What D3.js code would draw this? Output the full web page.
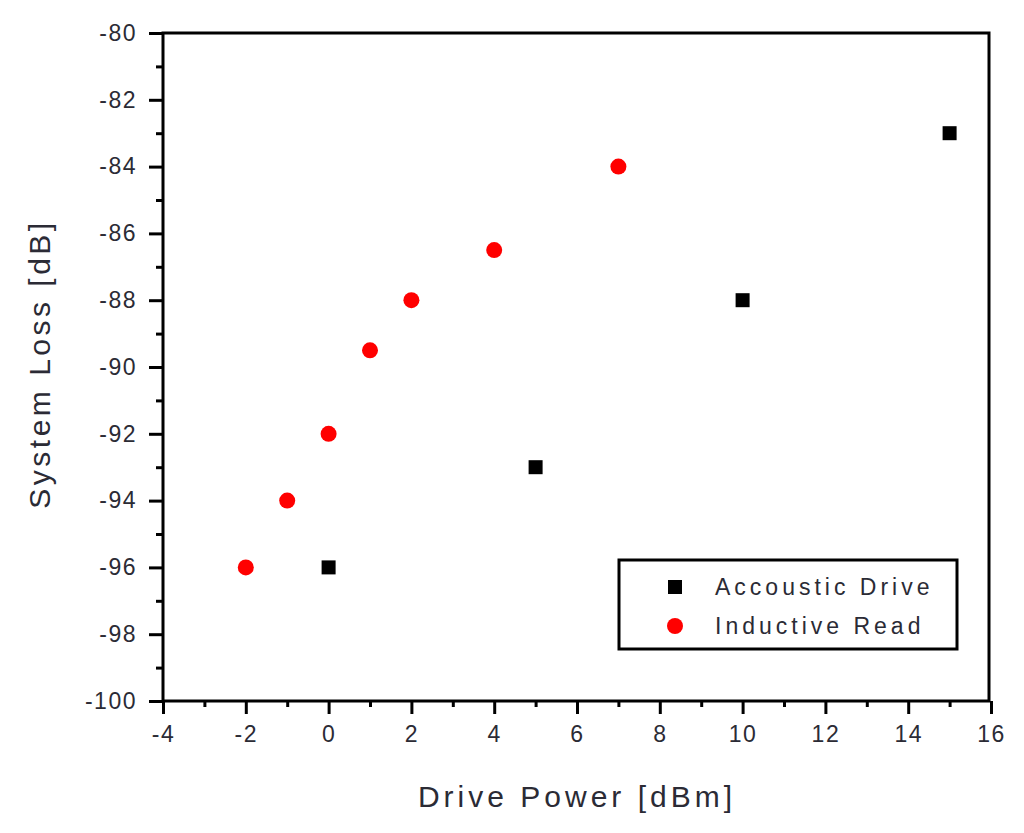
<!DOCTYPE html>
<html>
<head>
<meta charset="utf-8">
<script src="https://cdn.jsdelivr.net/npm/d3@7"></script>
<style>
  body { margin: 0; background: #fff; }
  svg { display: block; font-family: "Liberation Sans", Arial, sans-serif; }
</style>
</head>
<body>
<div class="graph"></div>
<script>
// data
let driveX = [0, 5, 10, 15],
    driveY = [-96, -93, -88, -83]

let readX = [-2, -1, 0, 1, 2, 4, 7],
    readY = [-96, -94, -92, -89.5, -88, -86.5, -84]

let xMajor = [-4, -2, 0, 2, 4, 6, 8, 10, 12, 14, 16],
    yMajor = [-100, -98, -96, -94, -92, -90, -88, -86, -84, -82, -80]

let seriesNames = ['Accoustic Drive', 'Inductive Read']

let width = 1024,
    height = 833

let padLeft = 163, padRight = 991, padTop = 33, padBottom = 701

let x = d3.scaleLinear().domain([-4, 16]).range([padLeft, padRight])
let y = d3.scaleLinear().domain([-100, -80]).range([padBottom, padTop])

let svg = d3.select('.graph').append('svg')
    .attr('width', width)
    .attr('height', height)

// minor ticks sit halfway between majors
let xMinor = xMajor.slice(0, -1).map(function(d) { return d + 1 })
let yMinor = yMajor.slice(0, -1).map(function(d) { return d + 1 })

// plain hyphen minus, like the original
let fmt = function(d) { return String(d) }

function styleAxis(g) {
    g.select('.domain').remove()
    g.selectAll('.tick line').attr('stroke', '#000').attr('stroke-width', 3)
    g.selectAll('.tick text')
        .attr('fill', '#2b2b35')
        .style('font-size', '23px')
        .style('letter-spacing', '1.5px')
}

svg.append('g')
    .attr('transform', 'translate(0,' + padBottom + ')')
    .call(d3.axisBottom(x).tickValues(xMinor).tickSize(6).tickFormat(''))
    .call(styleAxis)

svg.append('g')
    .attr('transform', 'translate(0,' + padBottom + ')')
    .call(d3.axisBottom(x).tickValues(xMajor).tickSize(13).tickPadding(12).tickFormat(fmt))
    .call(styleAxis)

svg.append('g')
    .attr('transform', 'translate(' + padLeft + ',0)')
    .call(d3.axisLeft(y).tickValues(yMinor).tickSize(7).tickFormat(''))
    .call(styleAxis)

svg.append('g')
    .attr('transform', 'translate(' + padLeft + ',0)')
    .call(d3.axisLeft(y).tickValues(yMajor).tickSize(14).tickPadding(12).tickFormat(fmt))
    .call(styleAxis)

// frame
svg.append('rect')
    .attr('x', padLeft)
    .attr('y', padTop)
    .attr('width', padRight - padLeft - 2)
    .attr('height', padBottom - padTop)
    .attr('fill', 'none')
    .attr('stroke', '#000')
    .attr('stroke-width', 3)

// points
svg.append('g').selectAll('rect')
    .data(d3.zip(driveX, driveY))
    .join('rect')
    .attr('x', function(d) { return x(d[0]) - 7 })
    .attr('y', function(d) { return y(d[1]) - 7 })
    .attr('width', 14)
    .attr('height', 14)
    .attr('fill', '#000')

svg.append('g').selectAll('circle')
    .data(d3.zip(readX, readY))
    .join('circle')
    .attr('cx', function(d) { return x(d[0]) })
    .attr('cy', function(d) { return y(d[1]) })
    .attr('r', 8)
    .attr('fill', '#ff0000')

// axis titles
svg.append('text')
    .attr('x', (padLeft + padRight) / 2)
    .attr('y', 807)
    .attr('text-anchor', 'middle')
    .attr('fill', '#2b2b35')
    .style('font-size', '30px')
    .style('letter-spacing', '4px')
    .text('Drive Power [dBm]')

svg.append('text')
    .attr('transform', 'translate(50,364) rotate(-90)')
    .attr('text-anchor', 'middle')
    .attr('fill', '#2b2b35')
    .style('font-size', '30px')
    .style('letter-spacing', '3.5px')
    .text('System Loss [dB]')

// legend
let legend = svg.append('g')

legend.append('rect')
    .attr('x', 619)
    .attr('y', 560)
    .attr('width', 338)
    .attr('height', 89)
    .attr('fill', '#fff')
    .attr('stroke', '#000')
    .attr('stroke-width', 3)

legend.append('rect')
    .attr('x', 668)
    .attr('y', 580)
    .attr('width', 14)
    .attr('height', 14)
    .attr('fill', '#000')

legend.append('circle')
    .attr('cx', 675)
    .attr('cy', 626)
    .attr('r', 8)
    .attr('fill', '#ff0000')

legend.selectAll('text')
    .data(seriesNames)
    .join('text')
    .attr('x', 715)
    .attr('y', function(d, i) { return 595 + i * 39 })
    .attr('fill', '#2b2b35')
    .style('font-size', '23px')
    .style('letter-spacing', '4px')
    .text(function(d) { return d })
</script>
</body>
</html>
